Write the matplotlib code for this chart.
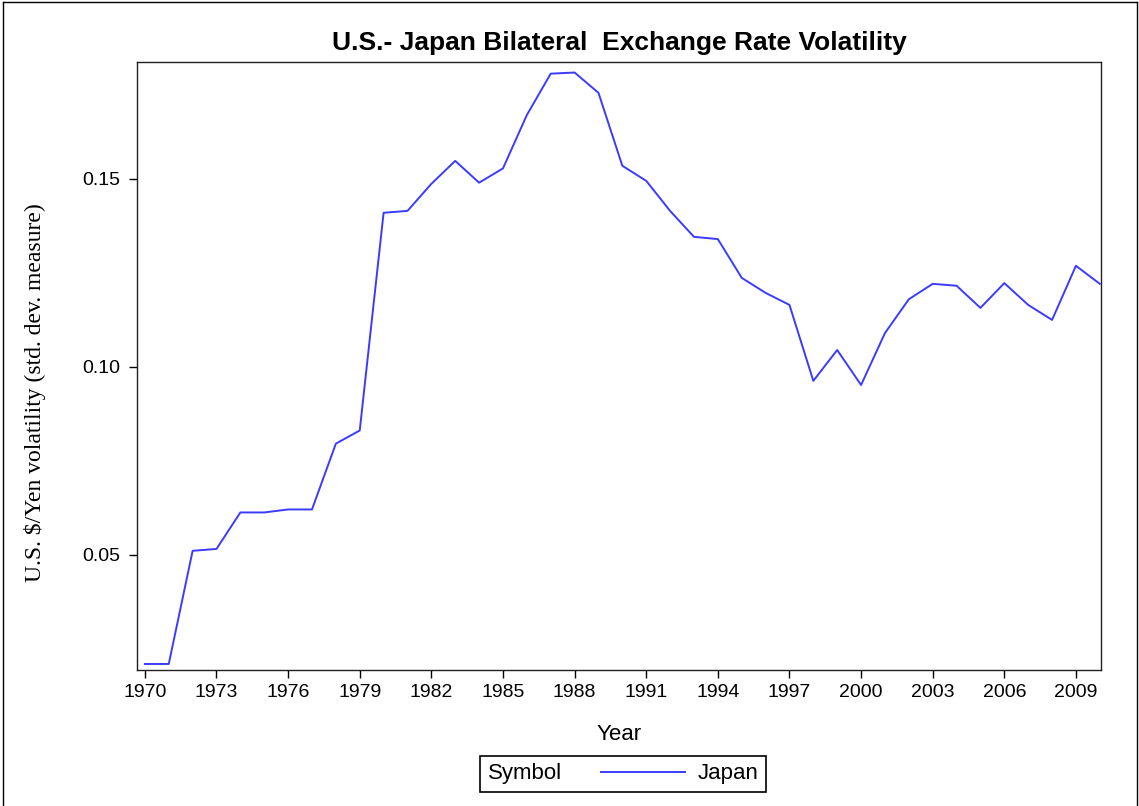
import matplotlib
matplotlib.use("Agg")
import matplotlib.pyplot as plt
from matplotlib.lines import Line2D
from matplotlib.offsetbox import HPacker

years = list(range(1970, 2011))
japan = [0.0210, 0.0210, 0.0511, 0.0516, 0.0613, 0.0613, 0.0621, 0.0621, 0.0796, 0.0831,
         0.1410, 0.1415, 0.1487, 0.1548, 0.1490, 0.1528, 0.1670, 0.1780, 0.1783, 0.1729,
         0.1535, 0.1495, 0.1415, 0.1346, 0.1340, 0.1237, 0.1197, 0.1165, 0.0963, 0.1045,
         0.0952, 0.1090, 0.1180, 0.1221, 0.1216, 0.1157, 0.1223, 0.1165, 0.1125, 0.1269,
         0.1221]
xticks = list(range(1970, 2010, 3))
yticks = [0.05, 0.10, 0.15]
ytick_labels = ["0.05", "0.10", "0.15"]

sans = "Liberation Sans"

fig = plt.figure(figsize=(11.39, 8.06), dpi=100)
ax = fig.add_axes([137/1139, 1-670/806, (1101-137)/1139, (670-62)/806])

color = "#3b3bff"
line, = ax.plot(years, japan, color=color, lw=1.4, label="Japan")

ax.set_xlim(1969.67, 2010.05)
ax.set_ylim(0.0194, 0.1811)
ax.set_xticks(xticks)
ax.set_xticklabels([str(y) for y in xticks], fontfamily=sans, fontsize=14)
ax.set_yticks(yticks)
ax.set_yticklabels(ytick_labels, fontfamily=sans, fontsize=14)
ax.tick_params(direction="out", length=6, width=1, colors="black", pad=4)
ax.tick_params(axis="y", pad=6)
for s in ax.spines.values():
    s.set_linewidth(1.0)
    s.set_color("#222222")

ax.set_title("U.S.- Japan Bilateral  Exchange Rate Volatility", fontfamily=sans,
             fontweight="bold", fontsize=19, y=1.0, pad=8.5)
ax.set_xlabel("Year", fontfamily=sans, fontsize=16, va="center")
ax.xaxis.set_label_coords(0.5, (670 - 735) / 608)
fig.text(35/1139, 1-393/806, "U.S. $/Yen volatility (std. dev. measure)", rotation=90,
         fontfamily="Liberation Serif", fontsize=17, ha="center", va="center")

leg = fig.legend(handles=[line], labels=["Japan"], title="Symbol",
                 loc="center", bbox_to_anchor=(623/1139, 1-774/806),
                 prop={"family": sans, "size": 16}, handlelength=3.8, handletextpad=0.55,
                 borderpad=0.15, fancybox=False, edgecolor="black", framealpha=1)
leg.get_title().set_fontfamily(sans)
leg.get_title().set_fontsize(16)
leg.get_frame().set_linewidth(1.2)
try:
    fs = leg._fontsize
    newbox = HPacker(pad=0.35*fs, sep=1.75*fs, align="center",
                     children=[leg._legend_title_box, leg._legend_handle_box])
    newbox.set_figure(fig)
    leg._legend_box = newbox
    leg._set_loc(leg._loc)
except Exception:
    pass

# figure border
for xs, ys in [((0.003, 0.003), (0.0, 0.997)), ((0.003, 0.998), (0.997, 0.997)),
               ((0.998, 0.998), (0.0, 0.997))]:
    fig.add_artist(Line2D(xs, ys, transform=fig.transFigure, color="black", lw=1))

fig.savefig("out.png", dpi=100, facecolor="white")
